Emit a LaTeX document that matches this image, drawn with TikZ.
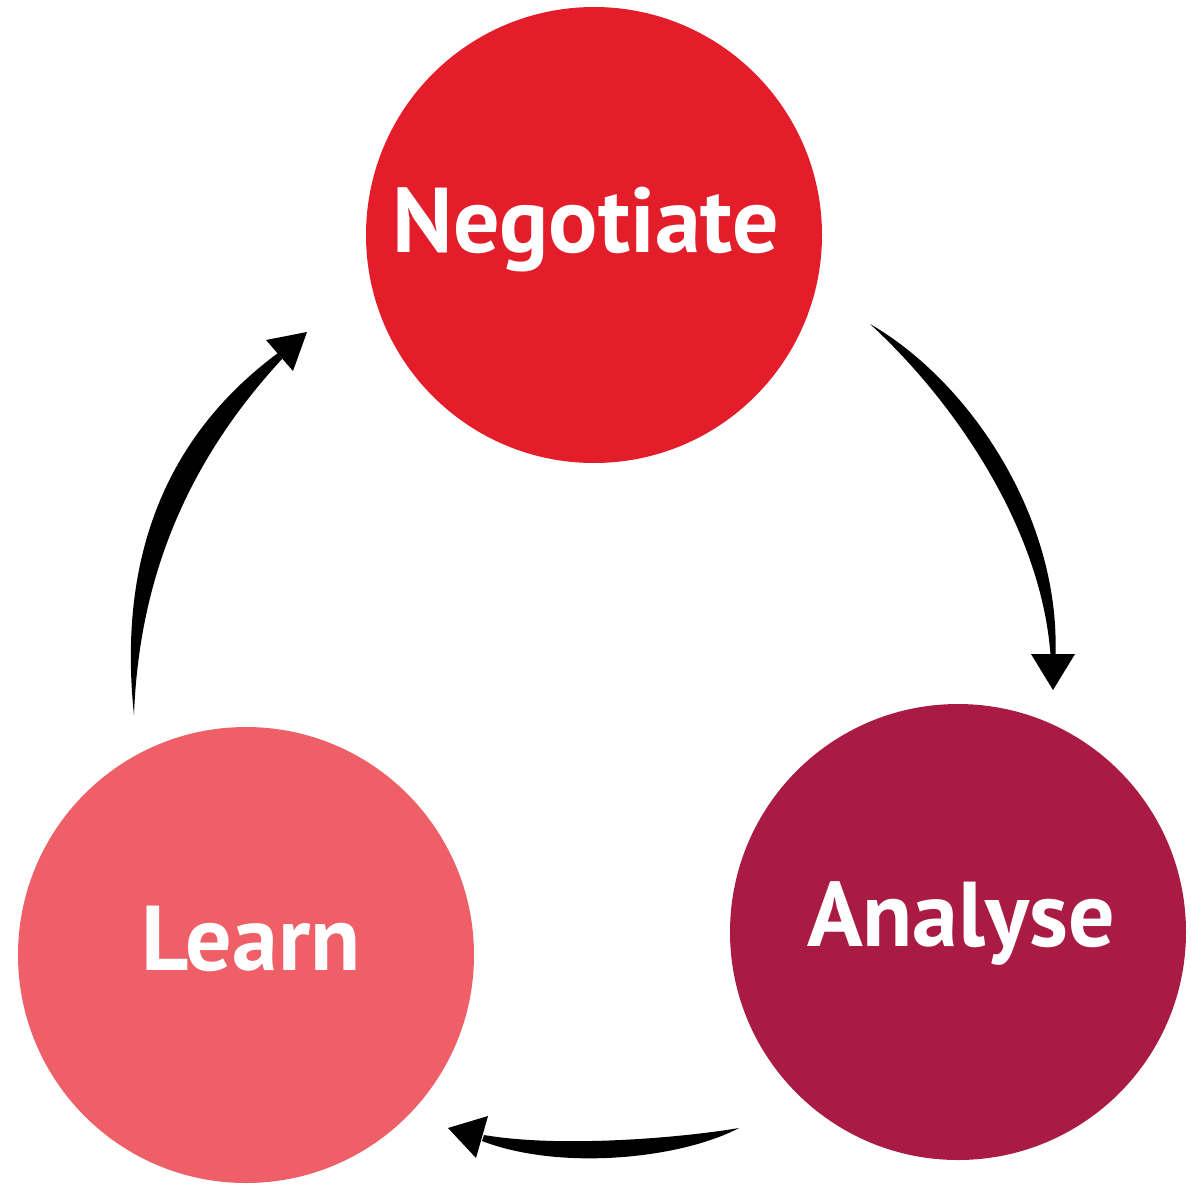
\documentclass[tikz,border=0pt]{standalone}
\usepackage{fontspec}
\setmainfont{PT Sans}
\begin{document}
\begin{tikzpicture}[x=1pt,y=-1pt,
  stage/.style={circle,inner sep=0pt,minimum size=456pt,draw=none},
  stagelabel/.style={anchor=base,inner sep=0pt,text=white,
    font=\fontsize{92}{92}\selectfont\bfseries},
  swoosh/.style={fill=black,draw=none}]
\definecolor{negred}{HTML}{E41D2B}
\definecolor{anamaroon}{HTML}{A91B43}
\definecolor{learnpink}{HTML}{EF5F67}
\useasboundingbox (0,0) rectangle (1191,1184);

% the three stages
\node[stage,fill=negred]    (neg) at (594,235) {};
\node[stage,fill=anamaroon] (ana) at (958,932) {};
\node[stage,fill=learnpink] (lea) at (246,955) {};

\node[stagelabel] (negtext) at (586,252) {Negotiate};
\node[stagelabel] (anatext) at (961,946) {Analyse};
\node[stagelabel] (leatext) at (251,970) {Learn};

% Negotiate -> Analyse
\coordinate (s1) at (870,324);
\coordinate (t1) at (1053,690);
\fill[swoosh] (s1) .. controls (969,381) and (1060,516) .. (1055.5,655)
  -- (1050.5,655) .. controls (1041,526) and (952,399) .. (s1) -- cycle;
\fill[swoosh] (t1) -- (1031,654) -- (1075,654) -- cycle;

% Analyse -> Learn
\coordinate (s2) at (739,1128);
\coordinate (t2) at (448,1128);
\fill[swoosh] (s2) .. controls (680,1138) and (560,1148) .. (484,1135)
  -- (482,1141) .. controls (560,1171) and (680,1159) .. (s2) -- cycle;
\fill[swoosh] (t2) -- (488,1116) -- (476,1158) -- cycle;

% Learn -> Negotiate
\coordinate (s3) at (134,715);
\coordinate (t3) at (307,332);
\fill[swoosh] (s3) .. controls (118,563) and (162,439) .. (278,353)
  -- (282,359) .. controls (187,462) and (139,578) .. (s3) -- cycle;
\fill[swoosh] (t3) -- (266,340) -- (293,371) -- cycle;
\end{tikzpicture}
\end{document}
